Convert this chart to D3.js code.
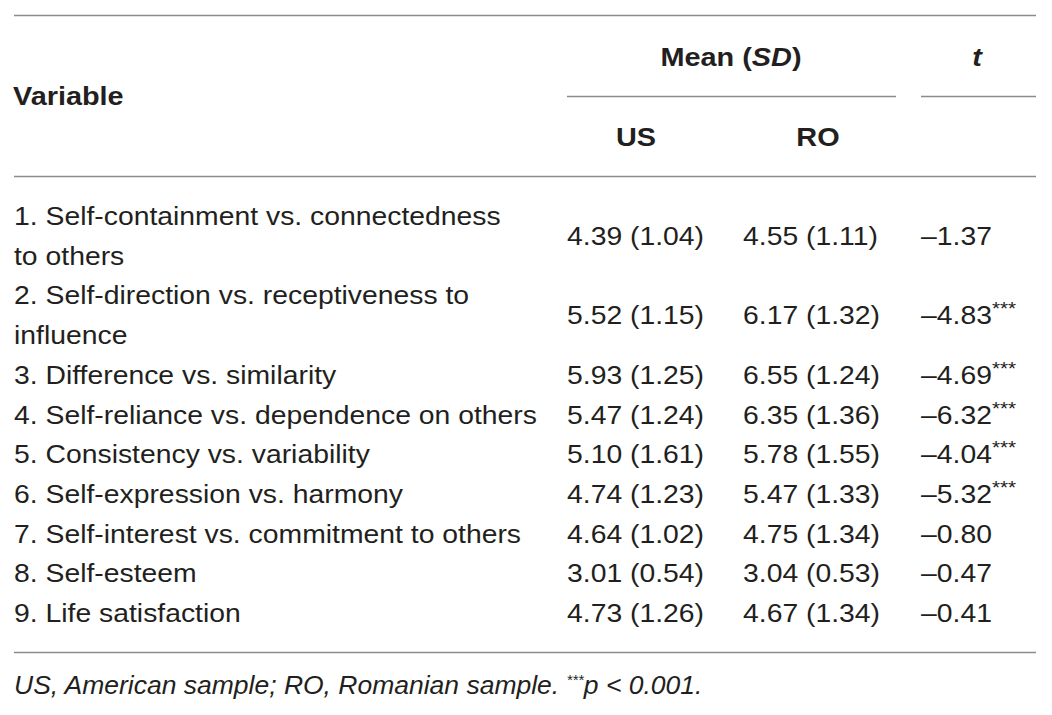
<!DOCTYPE html>
<html>
<head>
<meta charset="utf-8">
<script src="https://cdn.jsdelivr.net/npm/d3@7"></script>
<style>
  body { margin: 0; background: #fff; }
  text { font-family: "Liberation Sans", Arial, Helvetica, sans-serif; fill: #231f20; }
</style>
</head>
<body>
<div id="table"></div>
<script>
const width = 1052;
const height = 715;

// table data
const variables = [
  ["1. Self-containment vs. connectedness", "to others"],
  ["2. Self-direction vs. receptiveness to", "influence"],
  ["3. Difference vs. similarity"],
  ["4. Self-reliance vs. dependence on others"],
  ["5. Consistency vs. variability"],
  ["6. Self-expression vs. harmony"],
  ["7. Self-interest vs. commitment to others"],
  ["8. Self-esteem"],
  ["9. Life satisfaction"]
];
const usMean = ["4.39", "5.52", "5.93", "5.47", "5.10", "4.74", "4.64", "3.01", "4.73"];
const usSD   = ["1.04", "1.15", "1.25", "1.24", "1.61", "1.23", "1.02", "0.54", "1.26"];
const roMean = ["4.55", "6.17", "6.55", "6.35", "5.78", "5.47", "4.75", "3.04", "4.67"];
const roSD   = ["1.11", "1.32", "1.24", "1.36", "1.55", "1.33", "1.34", "0.53", "1.34"];
const tValues = ["–1.37", "–4.83", "–4.69", "–6.32", "–4.04", "–5.32", "–0.80", "–0.47", "–0.41"];
const tSig   = ["", "***", "***", "***", "***", "***", "", "", ""];

const svg = d3.select("#table").append("svg")
  .attr("width", width)
  .attr("height", height);

const lineColor = "#8c8c8c";
// the source font is wider than Liberation Sans, stretch glyphs a bit
const stretch = 1.09;

// each text line gets a slot; a row sits in the middle of its lines
let lineStart = [];
let n = 0;
variables.forEach(v => { lineStart.push(n); n += v.length; });
const y = d3.scaleLinear().domain([0, n - 1]).range([225, 622]);

const x = { label: 14, us: 567, ro: 743, t: 921 };

function put(parent, px, py, sx) {
  return parent.append("text")
    .attr("transform", "translate(" + px + "," + py + ") scale(" + (sx || stretch) + ",1)");
}

// rules
function rule(x1, x2, yy) {
  svg.append("line")
    .attr("x1", x1).attr("x2", x2)
    .attr("y1", yy).attr("y2", yy)
    .attr("stroke", lineColor)
    .attr("stroke-width", 1.5);
}
rule(14, 1036, 15.5);
rule(567, 896, 96.5);
rule(921, 1036, 96.5);
rule(14, 1036, 176.5);
rule(14, 1036, 652.5);

// header
const head = svg.append("g").style("font-weight", "bold").style("font-size", "26px");
const hs = 1.11;
put(head, 13, 105, hs).text("Variable");
const mean = put(head, 731, 66, hs).attr("text-anchor", "middle");
mean.append("tspan").text("Mean (");
mean.append("tspan").style("font-style", "italic").text("SD");
mean.append("tspan").text(")");
put(head, 977, 66, hs).attr("text-anchor", "middle")
  .style("font-style", "italic").text("t");
put(head, 636, 146, hs).attr("text-anchor", "middle").text("US");
put(head, 818, 146, hs).attr("text-anchor", "middle").text("RO");

// body rows
const rows = svg.append("g").style("font-size", "26px")
  .selectAll("g")
  .data(variables)
  .enter()
  .append("g");

rows.each(function (d, i) {
  const g = d3.select(this);
  d.forEach((line, j) => {
    put(g, x.label, y(lineStart[i] + j)).text(line);
  });
  const mid = y(lineStart[i] + (d.length - 1) / 2);
  put(g, x.us, mid).text(usMean[i] + " (" + usSD[i] + ")");
  put(g, x.ro, mid).text(roMean[i] + " (" + roSD[i] + ")");
  const t = put(g, x.t, mid);
  t.append("tspan").text(tValues[i]);
  if (tSig[i]) {
    t.append("tspan").attr("dy", -9).style("font-size", "19px").text(tSig[i]);
  }
});

// footnote
const foot = put(svg, 14, 694, 1.06)
  .style("font-size", "25px")
  .style("font-style", "italic");
foot.append("tspan").text("US, American sample; RO, Romanian sample. ");
foot.append("tspan").attr("dy", -9).style("font-size", "14px").text("***");
foot.append("tspan").attr("dy", 9).text("p < 0.001.");
</script>
</body>
</html>
